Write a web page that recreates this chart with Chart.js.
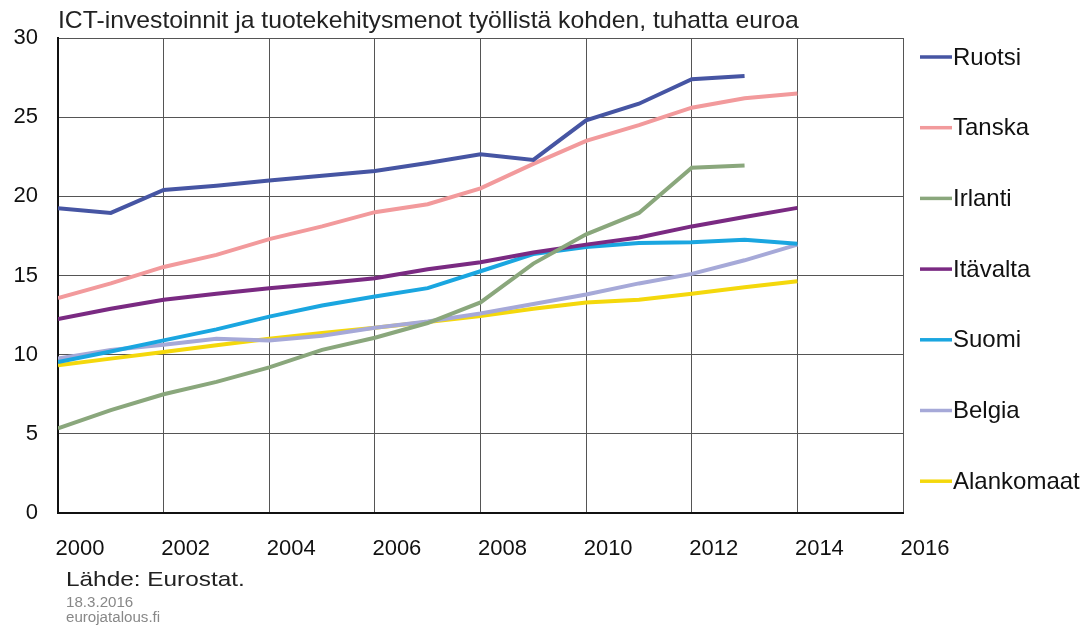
<!DOCTYPE html>
<html>
<head>
<meta charset="utf-8">
<script src="https://cdn.jsdelivr.net/npm/chart.js@4"></script>
<style>
  body { margin: 0; background: #fff; font-family: "Liberation Sans", Arial, sans-serif; }
  #wrap { position: relative; width: 1087px; height: 627px; }
  #title { position: absolute; left: 58px; top: 6px; font-size: 24px; color: #222; white-space: nowrap;
           transform: scaleX(1.03); transform-origin: left top; }
  #src { position: absolute; left: 66px; top: 567px; font-size: 21px; color: #222; white-space: nowrap;
         transform: scaleX(1.16); transform-origin: left top; }
  #date { position: absolute; left: 66px; top: 595px; font-size: 14px; color: #888; line-height: 15px; white-space: nowrap;
          transform: scaleX(1.08); transform-origin: left top; }
</style>
</head>
<body>
<div id="wrap">
  <canvas id="myChart" width="1087" height="627"></canvas>
  <div id="title">ICT-investoinnit ja tuotekehitysmenot työllistä kohden, tuhatta euroa</div>
  <div id="src">Lähde: Eurostat.</div>
  <div id="date">18.3.2016<br>eurojatalous.fi</div>
</div>
<script>
  // vuodet ja sarjat
  const years = [2000, 2001, 2002, 2003, 2004, 2005, 2006, 2007, 2008, 2009, 2010, 2011, 2012, 2013, 2014];
  const ruotsi = [19.25, 18.95, 20.4, 20.67, 21.0, 21.3, 21.6, 22.1, 22.65, 22.3, 24.8, 25.85, 27.4, 27.6];
  const tanska = [13.57, 14.5, 15.54, 16.3, 17.3, 18.1, 19.0, 19.5, 20.5, 22.05, 23.5, 24.5, 25.6, 26.2, 26.5];
  const irlanti = [5.34, 6.5, 7.5, 8.28, 9.2, 10.3, 11.07, 12.0, 13.3, 15.75, 17.6, 18.95, 21.8, 21.95];
  const itavalta = [12.25, 12.9, 13.47, 13.85, 14.2, 14.5, 14.83, 15.4, 15.84, 16.45, 16.95, 17.4, 18.1, 18.7, 19.27];
  const suomi = [9.54, 10.2, 10.9, 11.6, 12.4, 13.1, 13.67, 14.2, 15.27, 16.35, 16.8, 17.05, 17.1, 17.25, 17.0];
  const belgia = [9.75, 10.3, 10.63, 11.0, 10.9, 11.2, 11.7, 12.1, 12.6, 13.2, 13.8, 14.5, 15.1, 15.96, 16.95];
  const alankomaat = [9.33, 9.75, 10.17, 10.6, 11.0, 11.37, 11.7, 12.06, 12.44, 12.9, 13.3, 13.47, 13.85, 14.26, 14.64];
  const xTicks = [2000, 2002, 2004, 2006, 2008, 2010, 2012, 2014, 2016];
  const yTicks = [0, 5, 10, 15, 20, 25, 30];

  const series = [
    { label: "Ruotsi", values: ruotsi, color: "#4655a3" },
    { label: "Tanska", values: tanska, color: "#f29a9c" },
    { label: "Irlanti", values: irlanti, color: "#8aa77c" },
    { label: "Itävalta", values: itavalta, color: "#7a2a82" },
    { label: "Suomi", values: suomi, color: "#1aa6e0" },
    { label: "Belgia", values: belgia, color: "#a6a9d8" },
    { label: "Alankomaat", values: alankomaat, color: "#f4d80c" },
  ];

  // oma selite oikealle
  const sideLegend = {
    id: "sideLegend",
    afterDraw(chart) {
      const c = chart.ctx;
      c.save();
      c.font = "24px 'Liberation Sans', Arial, sans-serif";
      c.textBaseline = "middle";
      chart.data.datasets.forEach((ds, i) => {
        const y = 57 + i * 70.7;
        c.strokeStyle = ds.borderColor;
        c.lineWidth = 3.5;
        c.beginPath();
        c.moveTo(920, y);
        c.lineTo(952, y);
        c.stroke();
        c.fillStyle = "#111";
        c.fillText(ds.label, 953, y + 1);
      });
      c.restore();
    },
  };

  const ctx = document.getElementById("myChart").getContext("2d");
  const chart = new Chart(ctx, {
    type: "line",
    data: {
      datasets: series.map((s) => ({
        label: s.label,
        data: s.values.map((v, i) => ({ x: years[i], y: v })),
        borderColor: s.color,
        backgroundColor: s.color,
        borderWidth: 4,
        pointRadius: 0,
        tension: 0,
      })),
    },
    options: {
      responsive: false,
      animation: false,
      layout: { padding: { top: 38, right: 184, left: 0, bottom: 0 } },
      plugins: {
        legend: { display: false },
        tooltip: { enabled: false },
      },
      scales: {
        x: {
          type: "linear",
          min: 2000,
          max: 2016,
          afterBuildTicks: (s) => { s.ticks = xTicks.map((v) => ({ value: v })); },
          afterFit: (s) => { s.height = 114; },
          grid: { color: "#555", lineWidth: 1, drawTicks: false },
          border: { color: "#111", width: 2 },
          ticks: {
            color: "#111",
            font: { size: 22, family: "'Liberation Sans', Arial" },
            padding: 23,
            labelOffset: 22,
            maxRotation: 0,
            callback: (v) => String(v),
          },
        },
        y: {
          min: 0,
          max: 30,
          afterBuildTicks: (s) => { s.ticks = yTicks.map((v) => ({ value: v })); },
          afterFit: (s) => { s.width = 58; },
          grid: { color: "#555", lineWidth: 1, drawTicks: false },
          border: { color: "#111", width: 2 },
          ticks: {
            color: "#111",
            font: { size: 22, family: "'Liberation Sans', Arial" },
            padding: 20,
          },
        },
      },
    },
    plugins: [sideLegend],
  });
</script>
</body>
</html>
